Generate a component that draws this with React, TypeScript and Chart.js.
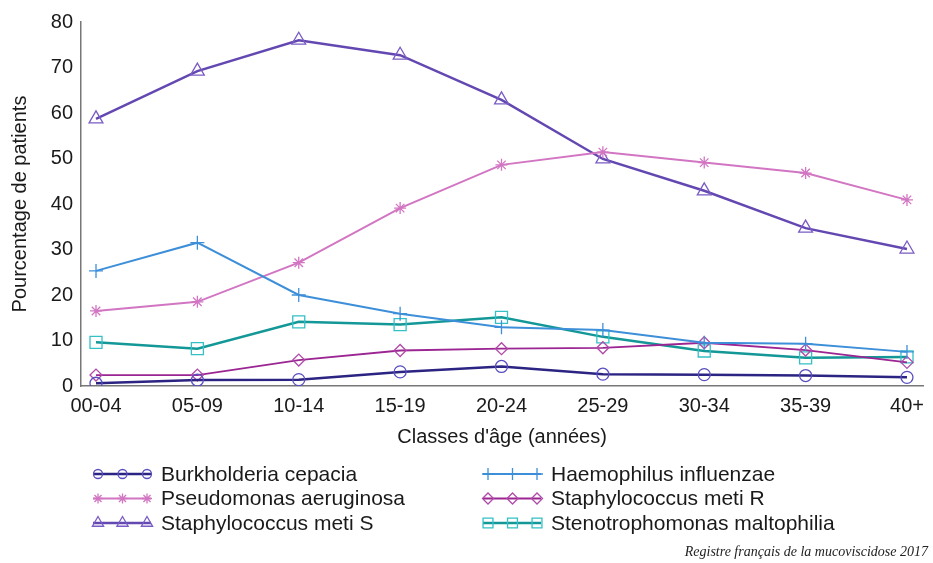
import React, { useEffect, useRef } from "react";
import { Chart, registerables } from "chart.js";
import { drawPoint } from "chart.js/helpers";

Chart.register(...registerables);

const ageClasses = ["00-04", "05-09", "10-14", "15-19", "20-24", "25-29", "30-34", "35-39", "40+"];
const burkholderia = [0.6, 1.3, 1.4, 3.1, 4.3, 2.6, 2.5, 2.3, 1.9];
const haemophilus = [25.3, 31.5, 20.0, 15.9, 12.9, 12.3, 9.5, 9.3, 7.5];
const pseudomonas = [16.5, 18.5, 27.1, 39.1, 48.6, 51.4, 49.1, 46.8, 40.9];
const staphMetiR = [2.4, 2.4, 5.7, 7.8, 8.2, 8.4, 9.5, 7.9, 5.2];
const staphMetiS = [58.7, 69.2, 76.0, 72.7, 62.9, 49.9, 42.9, 34.7, 30.1];
const stenotrophomonas = [9.6, 8.2, 14.1, 13.5, 15.1, 10.8, 7.7, 6.2, 6.4];
const yTicks = [0, 10, 20, 30, 40, 50, 60, 70, 80];

const FONT = "'Liberation Sans', Arial, sans-serif";

type Series = {
  label: string;
  values: number[];
  line: string;
  marker: string;
  style: string;
  width: number;
  radius: number;
  legendRadius: number;
};

const series: Series[] = [
  { label: "Burkholderia cepacia", values: burkholderia, line: "#2c2482", marker: "#5a4fbf", style: "circle", width: 2.5, radius: 6, legendRadius: 4.5 },
  { label: "Haemophilus influenzae", values: haemophilus, line: "#3d8fd9", marker: "#3d8fd9", style: "cross", width: 2, radius: 7, legendRadius: 6 },
  { label: "Pseudomonas aeruginosa", values: pseudomonas, line: "#d275c2", marker: "#d275c2", style: "star", width: 2, radius: 6, legendRadius: 5 },
  { label: "Staphylococcus meti R", values: staphMetiR, line: "#9b2592", marker: "#b04aa8", style: "rectRot", width: 1.8, radius: 6, legendRadius: 5.5 },
  { label: "Staphylococcus meti S", values: staphMetiS, line: "#6448b2", marker: "#7a5cc4", style: "triangle", width: 2.5, radius: 8, legendRadius: 6.5 },
  { label: "Stenotrophomonas maltophilia", values: stenotrophomonas, line: "#139797", marker: "#35c0c6", style: "rect", width: 2.5, radius: 8.5, legendRadius: 7 },
];

const legendPlugin = {
  id: "customLegend",
  afterDraw(chart: any) {
    const ctx = chart.ctx;
    ctx.save();
    chart.data.datasets.forEach((ds: any, i: number) => {
      const col = i % 2;
      const row = Math.floor(i / 2);
      const x0 = col === 0 ? 93 : 483;
      const y = 474 + row * 24.5;
      const len = 58;
      ctx.strokeStyle = ds.borderColor;
      ctx.lineWidth = ds.borderWidth;
      ctx.beginPath();
      ctx.moveTo(x0, y);
      ctx.lineTo(x0 + len, y);
      ctx.stroke();
      ctx.strokeStyle = ds.pointBorderColor;
      ctx.fillStyle = "rgba(255,255,255,0)";
      ctx.lineWidth = 1.3;
      for (let k = 0; k < 3; k++) {
        drawPoint(ctx, { pointStyle: ds.pointStyle, rotation: 0, radius: series[i].legendRadius, borderWidth: 1.3 }, x0 + 5 + k * 24.5, y);
      }
      ctx.fillStyle = "#1a1a1a";
      ctx.font = `21px ${FONT}`;
      ctx.textAlign = "left";
      ctx.textBaseline = "middle";
      ctx.fillText(ds.label, x0 + len + 10, y + 1);
    });
    ctx.font = `italic 14px 'Liberation Serif', 'Times New Roman', serif`;
    ctx.fillStyle = "#222";
    ctx.textAlign = "right";
    ctx.textBaseline = "alphabetic";
    ctx.fillText("Registre français de la mucoviscidose 2017", 928, 556);
    ctx.restore();
  },
};

export default function App() {
  const ref = useRef<HTMLCanvasElement | null>(null);
  useEffect(() => {
    if (!ref.current) return;
    const chart = new Chart(ref.current, {
      type: "line",
      data: {
        datasets: series.map((s) => ({
          label: s.label,
          data: s.values.map((v, i) => ({ x: i, y: v })),
          borderColor: s.line,
          borderWidth: s.width,
          pointStyle: s.style as any,
          pointRadius: s.radius,
          pointBorderColor: s.marker,
          pointBackgroundColor: "rgba(255,255,255,0)",
          pointBorderWidth: 1.3,
          tension: 0,
          fill: false,
        })),
      },
      options: {
        responsive: false,
        animation: false,
        layout: { padding: { left: 0, top: 22, right: 8, bottom: 0 } },
        plugins: { legend: { display: false }, tooltip: { enabled: false } },
        scales: {
          x: {
            type: "linear",
            min: -0.148,
            max: 8.16,
            grid: { display: false, drawTicks: true, tickLength: 5, tickColor: "#555" },
            border: { display: true, color: "#777", width: 1.5 },
            afterBuildTicks: (scale: any) => {
              scale.ticks = ageClasses.map((_, i) => ({ value: i }));
            },
            afterFit: (scale: any) => {
              scale.height = 177;
            },
            ticks: {
              autoSkip: false,
              maxRotation: 0,
              padding: 3,
              color: "#1a1a1a",
              font: { family: FONT, size: 20 },
              callback: (v: any) => ageClasses[v as number] ?? "",
            },
            title: {
              display: true,
              text: "Classes d'âge (années)",
              color: "#1a1a1a",
              font: { family: FONT, size: 20 },
              padding: { top: 4, bottom: 114 },
            },
          },
          y: {
            min: 0,
            max: 80,
            grid: { display: false, drawTicks: true, tickLength: 5, tickColor: "#555" },
            border: { display: true, color: "#777", width: 1.5 },
            afterBuildTicks: (scale: any) => {
              scale.ticks = yTicks.map((v) => ({ value: v }));
            },
            afterFit: (scale: any) => {
              scale.width = 81;
            },
            ticks: {
              padding: 3,
              color: "#1a1a1a",
              font: { family: FONT, size: 20 },
            },
            title: {
              display: true,
              text: "Pourcentage de patients",
              color: "#1a1a1a",
              font: { family: FONT, size: 20 },
              padding: { top: 8, bottom: 4 },
            },
          },
        },
      },
      plugins: [legendPlugin],
    });
    return () => chart.destroy();
  }, []);
  return (
    <div style={{ position: "fixed", left: 0, top: 0, width: 933, height: 563, background: "#fff" }}>
      <canvas ref={ref} width={933} height={563} style={{ display: "block" }} />
    </div>
  );
}
